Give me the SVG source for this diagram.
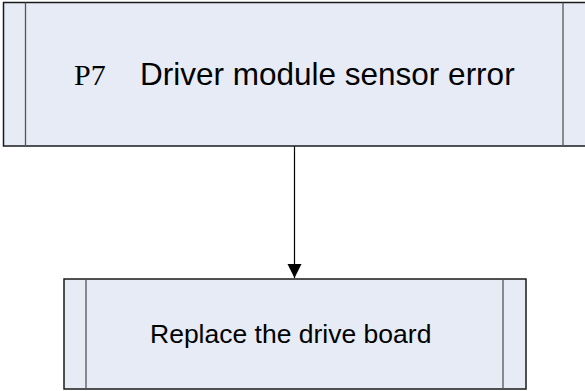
<svg xmlns="http://www.w3.org/2000/svg" width="585" height="391" viewBox="0 0 585 391">
<style>
.box{fill:#E7EBF5;stroke:#1a1a1a;stroke-width:1.5}
.inner{stroke:#555;stroke-width:1.3}
.t{font-family:"Liberation Sans",Arial,sans-serif;fill:#000}
.s{font-family:"Liberation Serif","Times New Roman",serif;fill:#000}
.conn{stroke:#000;stroke-width:1.2;fill:none}
</style>
<defs>
<marker id="ah" markerUnits="userSpaceOnUse" markerWidth="14" markerHeight="16" refX="14" refY="7" orient="auto">
<path d="M0,0 L14,7 L0,14 Z" fill="#000"/>
</marker>
</defs>
<rect width="585" height="391" fill="#fff"/>
<g id="node-p7">
<rect class="box" x="3.5" y="2.5" width="600" height="143.5"/>
<line class="inner" x1="25.5" y1="2.5" x2="25.5" y2="146"/>
<line class="inner" x1="563" y1="2.5" x2="563" y2="146"/>
<text class="s" x="74" y="85" font-size="30">P7</text>
<text class="t" x="140" y="85" font-size="31.5">Driver module sensor error</text>
</g>
<g id="node-replace">
<rect class="box" x="64" y="279" width="462" height="110"/>
<line class="inner" x1="86" y1="279" x2="86" y2="389"/>
<line class="inner" x1="503" y1="279" x2="503" y2="389"/>
<text class="t" x="150" y="343" font-size="26.5">Replace the drive board</text>
</g>
<g id="connectors">
<line class="conn" x1="294.5" y1="146.5" x2="294.5" y2="278" marker-end="url(#ah)"/>
</g>
</svg>
